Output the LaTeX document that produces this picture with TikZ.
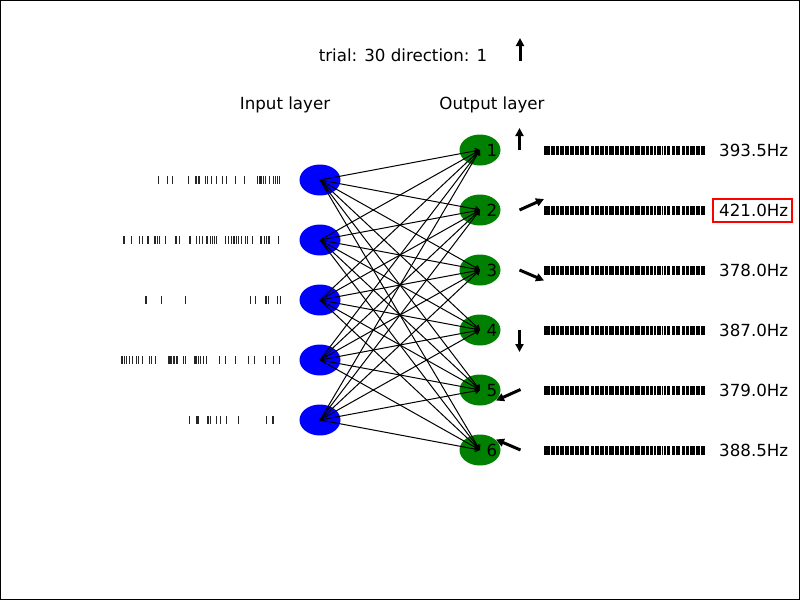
\documentclass[tikz,border=0pt]{standalone}
\usepackage{fontspec}
\setmainfont{DejaVu Sans}
\usetikzlibrary{arrows.meta,shapes.geometric}
\definecolor{mgreen}{HTML}{008000}
\definecolor{mblue}{HTML}{0000FF}
\begin{document}
\begin{tikzpicture}[x=1pt,y=-1pt,
  txt/.style={font=\fontsize{16.67}{20}\selectfont, inner sep=0pt},
  inp/.style={ellipse,fill=mblue,minimum width=41pt,minimum height=31pt,inner sep=0pt},
  outp/.style={ellipse,fill=mgreen,minimum width=41pt,minimum height=31pt,inner sep=0pt},
  edge/.style={line width=1pt,-{Straight Barb[length=4pt,width=5.5pt]}},
  dirarrow/.style={line width=3pt,-{Triangle[length=8pt,width=8pt]}},
  spk/.style={line width=0.9pt,black!85},
  numlbl/.style={txt,anchor=base},
  freq/.style={txt,anchor=base west}
]
\useasboundingbox (0,0) rectangle (800,600);
\draw[line width=1pt] (0.5,0.5) rectangle (799.5,599.5);

% titles
\node[txt,anchor=base] (title) at (403,61) {trial: 30 direction: 1};
\coordinate (ta0) at (520,61); \coordinate (ta1) at (520,38);
\draw[dirarrow] (ta0) -- (ta1);
\node[txt,anchor=base] (inlab) at (285,109) {Input layer};
\node[txt,anchor=base] (outlab) at (492,109) {Output layer};

% input spike trains
\foreach \x in {158.3,167.3,172,188.3,195.3,196.7,198,199.3,205.3,207.7,211,216.7,222.3,226.3,235.3,244.3,257.7,259,260.3,261.7,263.3,265.7,269.3,273.3,275,277.7,279.3}
  \draw[spk] (\x,176) -- (\x,184);
\foreach \x in {123.3,124.7,131.7,139.3,142.3,147.3,148.7,154.3,155.7,157,159.3,165.3,175.3,176.7,179.3,189.3,190.7,196,199.3,202,206.3,207.7,210.7,212,214.7,216.7,225.3,228.7,231.3,233.3,234.7,236,238,241.7,245.3,247,252,260.3,261.7,264,266.7,268.7,269.7,278.3}
  \draw[spk] (\x,236) -- (\x,244);
\foreach \x in {145.3,146,161.3,185.3,250,255.3,265.7,266.7,268,277,280.3}
  \draw[spk] (\x,296) -- (\x,304);
\foreach \x in {121.3,122.7,124,126.7,129,132,136,138.7,142.3,149.3,151.3,155.3,168.3,169.3,170.3,171.7,173.3,174.7,176,177.7,183.7,185.3,194.3,195.3,196.7,198,200.3,203.7,206.7,219.3,225,235.3,248,254,265,273.3,279}
  \draw[spk] (\x,356) -- (\x,364);
\foreach \x in {189.3,196,197.3,198.7,207.3,208.7,210,216.7,220,226,238.3,266,272,273.3}
  \draw[spk] (\x,416) -- (\x,424);

% output spike trains
\foreach \y in {150,210,270,330,390,450} {
  \fill[black] (544,\y-4.5) rectangle (705,\y+4.5);
  \foreach \g in {550.7,555.3,559.3,564.7,569.3,574.5,579.5,584.3,590,594.7,599.7,604.5,608.8,614.5,619.8,624.7,629.8,634.7,640.5,645.5,649.5,653.2,656.5,661.5,663.7,666.3,671,675.5,681,685.5,689.8,695.5,700.3}
    \fill[white] (\g-0.65,\y-5) rectangle (\g+0.65,\y+5);
}

% nodes
\foreach \i/\y in {1/180,2/240,3/300,4/360,5/420}
  \node[inp] (i\i) at (320,\y) {};
\foreach \j/\y in {1/150,2/210,3/270,4/330,5/390,6/450}
  \node[outp] (o\j) at (480,\y) {};

% edges
\foreach \i in {1,...,5}
  \foreach \j in {1,...,6}
    \draw[edge] (i\i.center) -- (o\j.center);

% output numbers
\foreach \j/\y in {1/150,2/210,3/270,4/330,5/390,6/450}
  \node[numlbl] (n\j) at (492,\y+6) {\j};

% direction arrows
\coordinate (a1s) at (519.5,150); \coordinate (a1e) at (519.5,128);
\coordinate (a2s) at (519.5,210); \coordinate (a2e) at (544,199);
\coordinate (a3s) at (519.5,270); \coordinate (a3e) at (544,280.5);
\coordinate (a4s) at (519.5,329.5); \coordinate (a4e) at (519.5,352);
\coordinate (a5s) at (520.5,389.5); \coordinate (a5e) at (496,400.5);
\coordinate (a6s) at (520.5,450); \coordinate (a6e) at (496,439.5);
\foreach \k in {1,...,6}
  \draw[dirarrow] (a\k s) -- (a\k e);

% frequencies
\node[freq] (f1) at (719,156) {393.5Hz};
\node[freq] (f2) at (719,216) {421.0Hz};
\node[freq] (f3) at (719,276) {378.0Hz};
\node[freq] (f4) at (719,336) {387.0Hz};
\node[freq] (f5) at (719,396) {379.0Hz};
\node[freq] (f6) at (719,456) {388.5Hz};
\draw[red,line width=2pt] (712.5,198.5) rectangle (791.5,221.5);
\end{tikzpicture}
\end{document}
